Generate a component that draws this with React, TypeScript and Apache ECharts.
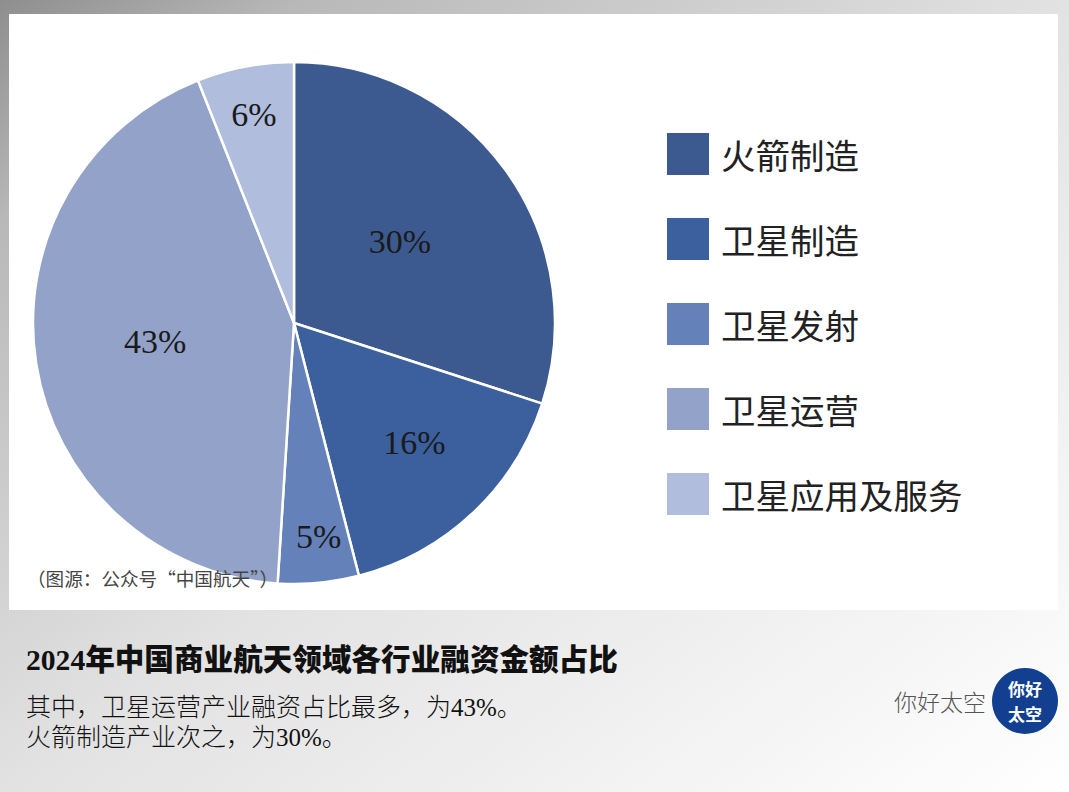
import React, { useEffect, useRef } from 'react';
import * as echarts from 'echarts';

const categories = ['火箭制造', '卫星制造', '卫星发射', '卫星运营', '卫星应用及服务'];
const shares = [30, 16, 5, 43, 6];
const sliceColors = ['#3c5a8f', '#3c5f9e', '#6581b9', '#93a2c8', '#b1bddd'];
// 标签相对扇区默认位置的偏移
const labelOffsets = [
  [-2, -3],
  [29, 22],
  [12, 81],
  [-7, -2],
  [-15, -77],
];
const titleText = '2024年中国商业航天领域各行业融资金额占比';
const bodyLines = ['其中，卫星运营产业融资占比最多，为43%。', '火箭制造产业次之，为30%。'];
const sourceText = '（图源：公众号“中国航天”）';
const brandText = '你好太空';
const logoLines = ['你好', '太空'];

const SERIF = '"Liberation Serif", "Noto Sans CJK SC", serif';
const SANS = '"Noto Sans CJK SC", sans-serif';

const App: React.FC = () => {
  const chartRef = useRef<HTMLDivElement>(null);

  useEffect(() => {
    if (!chartRef.current) return;
    document.body.style.margin = '0';
    const chart = echarts.init(chartRef.current, undefined, { renderer: 'svg' });

    const option: any = {
      animation: false,
      backgroundColor: new echarts.graphic.LinearGradient(0, 0, 1, 1, [
        { offset: 0, color: '#8e8e8e' },
        { offset: 0.14, color: '#b8b8b8' },
        { offset: 0.5, color: '#e2e2e2' },
        { offset: 1, color: '#ffffff' },
      ]),
      tooltip: { show: false },
      legend: {
        orient: 'vertical',
        left: 667,
        top: 131,
        padding: 0,
        icon: 'rect',
        itemWidth: 42,
        itemHeight: 42,
        itemGap: 39,
        selectedMode: false,
        data: categories,
        itemStyle: { borderWidth: 0 },
        textStyle: {
          fontFamily: SANS,
          fontSize: 34.5,
          lineHeight: 42,
          color: '#222',
          padding: [0, 0, 4, 7],
        },
      },
      graphic: [
        {
          type: 'rect',
          z: 0,
          shape: { x: 9, y: 14, width: 1049, height: 596 },
          style: { fill: '#fff' },
        },
        {
          type: 'text',
          z: 10,
          x: 27,
          y: 568,
          style: { text: sourceText, font: `18.6px ${SANS}`, fill: '#444' },
        },
        {
          type: 'text',
          z: 10,
          x: 26,
          y: 645,
          style: { text: titleText, font: `900 29.6px ${SERIF}`, fill: '#111' },
        },
        {
          type: 'text',
          z: 10,
          x: 26,
          y: 695,
          style: { text: bodyLines[0], font: `300 25px ${SERIF}`, fill: '#111' },
        },
        {
          type: 'text',
          z: 10,
          x: 26,
          y: 725,
          style: { text: bodyLines[1], font: `300 25px ${SERIF}`, fill: '#111' },
        },
        {
          type: 'text',
          z: 10,
          x: 894,
          y: 689,
          style: { text: brandText, font: `300 23px ${SANS}`, fill: '#555' },
        },
        {
          type: 'circle',
          z: 10,
          shape: { cx: 1025, cy: 701, r: 33 },
          style: { fill: '#123f8f' },
        },
        {
          type: 'text',
          z: 11,
          x: 1008,
          y: 676,
          style: {
            text: logoLines.join('\n'),
            font: `700 17px ${SANS}`,
            lineHeight: 25,
            fill: '#fff',
          },
        },
      ],
      series: [
        {
          type: 'pie',
          z: 5,
          center: [294, 323],
          radius: [0, 261],
          startAngle: 90,
          clockwise: true,
          avoidLabelOverlap: false,
          silent: true,
          itemStyle: { borderColor: '#fff', borderWidth: 2.5 },
          label: {
            show: true,
            position: 'inside',
            formatter: '{c}%',
            fontFamily: '"Liberation Serif", serif',
            fontSize: 34,
            color: '#1a1a1a',
          },
          labelLine: { show: false },
          labelLayout: (params: any) => ({
            dx: labelOffsets[params.dataIndex][0],
            dy: labelOffsets[params.dataIndex][1],
          }),
          data: categories.map((name, i) => ({
            name,
            value: shares[i],
            itemStyle: { color: sliceColors[i] },
          })),
        },
      ],
    };

    chart.setOption(option);

    return () => {
      chart.dispose();
    };
  }, []);

  return <div ref={chartRef} style={{ width: 1069, height: 792 }} />;
};

export default App;
